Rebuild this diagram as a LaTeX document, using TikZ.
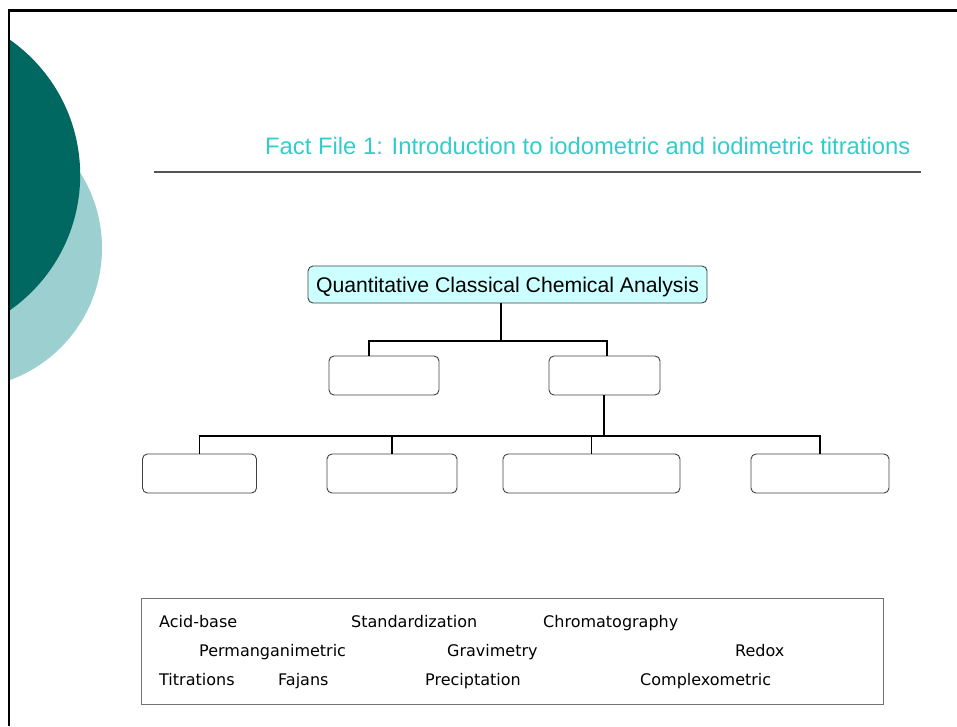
\documentclass[tikz,border=0pt]{standalone}
\usepackage{fontspec}
\setmainfont{Liberation Sans}
\newfontfamily\verdanalike{DejaVu Sans}
\definecolor{darkteal}{HTML}{006861}
\definecolor{lightteal}{HTML}{9CCFCF}
\definecolor{titlecyan}{HTML}{33CCCC}
\definecolor{topfill}{HTML}{CCFFFF}
\definecolor{boxline}{HTML}{404040}
\tikzset{
  orgbox/.style={draw=boxline, line width=0.9pt, rounded corners=5pt, minimum height=39pt, inner sep=0pt},
  conn/.style={draw=black, line width=1.1pt},
  word/.style={anchor=base west, inner sep=0pt, font=\verdanalike\fontsize{16}{18}\selectfont}
}
\begin{document}
\begin{tikzpicture}[x=1pt,y=-1pt]
\useasboundingbox (0,0) rectangle (957,726);
% decorative circles
\begin{scope}
\clip (9,10) rectangle (957,726);
\fill[lightteal] (-38.7,248) circle[radius=140.7];
\fill[darkteal] (-85,175) circle[radius=165.2];
\end{scope}
% slide frame
\draw[line width=2.2pt] (9,726) -- (9,10.5) -- (957,10.5);
% title
\node[anchor=base west, inner sep=0pt, text=titlecyan, font=\fontsize{23.8}{27}\selectfont] (title) at (265,154) {Fact File 1: Introduction to iodometric and iodimetric titrations};
\draw[draw=black!67, line width=1.6pt] (154,172) -- (921,172);
% org chart
\node[orgbox, fill=topfill, minimum width=399pt, minimum height=37pt, text depth=0pt, font=\fontsize{21.2}{24}\selectfont] (top) at (507.5,284.5) {Quantitative Classical Chemical Analysis};
\node[orgbox, minimum width=110pt] (l2a) at (384,375.5) {};
\node[orgbox, minimum width=111pt] (l2b) at (604.5,375.5) {};
\node[orgbox, minimum width=114pt] (l3a) at (199.5,473.5) {};
\node[orgbox, minimum width=130pt] (l3b) at (392,473.5) {};
\node[orgbox, minimum width=177pt] (l3c) at (591.5,473.5) {};
\node[orgbox, minimum width=138pt] (l3d) at (820,473.5) {};
\coordinate (j1) at (501,341);
\coordinate (j2) at (604,436);
\draw[conn] (top.south -| j1) -- (j1);
\draw[conn] ([xshift=-15pt]l2a.north) |- (j1) -| ([xshift=2.5pt]l2b.north);
\draw[conn, line width=1.8pt] (l2b.south -| j2) -- (j2);
\draw[conn] (l3a.north) |- (j2);
\draw[conn] (l3b.north) |- (j2);
\draw[conn] (l3c.north) |- (j2);
\draw[conn] (l3d.north) |- (j2);
% word box
\node[draw=black!55, line width=1pt, minimum width=742pt, minimum height=106pt, inner sep=0pt] (wordbox) at (512,651) {};
\node[word] (w1) at (159,627) {Acid-base};
\node[word] (w2) at (351,627) {Standardization};
\node[word] (w3) at (543,627) {Chromatography};
\node[word] (w4) at (199,656) {Permanganimetric};
\node[word] (w5) at (447,656) {Gravimetry};
\node[word] (w6) at (735,656) {Redox};
\node[word] (w7) at (159,685) {Titrations};
\node[word] (w8) at (278,685) {Fajans};
\node[word] (w9) at (425,685) {Preciptation};
\node[word] (w10) at (640,685) {Complexometric};
\end{tikzpicture}
\end{document}
